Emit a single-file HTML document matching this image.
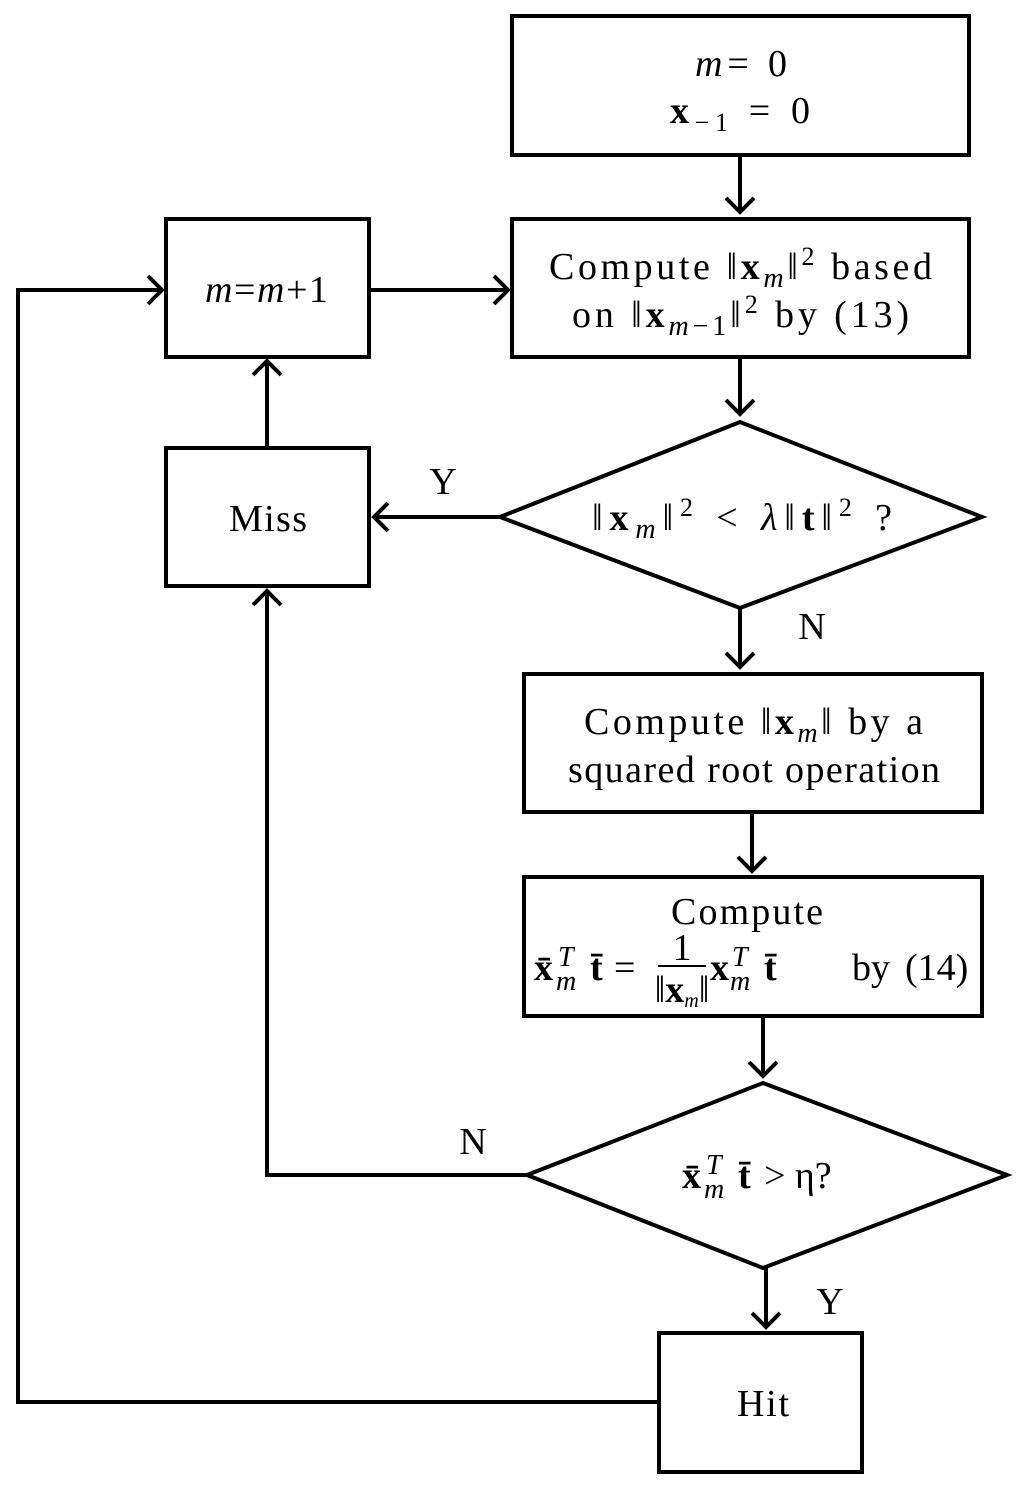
<!DOCTYPE html>
<html><head><meta charset="utf-8"><style>
html,body{margin:0;padding:0;background:#fff;}
svg{display:block;}
text{font-family:"Liberation Serif",serif;font-size:38px;fill:#000;}
.b{font-weight:bold;}
.i{font-style:italic;}
.s{font-size:28px;font-style:italic;}
</style></head><body>
<svg width="1024" height="1488" viewBox="0 0 1024 1488" xmlns="http://www.w3.org/2000/svg">
<g fill="none" stroke="#000" stroke-width="4">
<rect x="512" y="16" width="457" height="139"/>
<rect x="512" y="219" width="457" height="138"/>
<rect x="166" y="219" width="203" height="138"/>
<rect x="166" y="448" width="203" height="138"/>
<rect x="524" y="674" width="458" height="138"/>
<rect x="524" y="877" width="458" height="139"/>
<rect x="659" y="1333" width="203" height="139"/>
<polygon points="500,517 740,422 982,517 740,608"/>
<polygon points="527,1175 763,1083 1007,1175 763,1268"/>
<line x1="740" y1="155" x2="740" y2="212"/>
<line x1="369" y1="290" x2="508" y2="290"/>
<polyline points="659,1402 18,1402 18,290 162,290"/>
<line x1="740" y1="357" x2="740" y2="414"/>
<line x1="500" y1="517" x2="374" y2="517"/>
<line x1="267" y1="448" x2="267" y2="361"/>
<line x1="740" y1="608" x2="740" y2="667"/>
<line x1="752" y1="812" x2="752" y2="871"/>
<line x1="763" y1="1016" x2="763" y2="1076"/>
<polyline points="527,1175 267,1175 267,591"/>
<line x1="766" y1="1268" x2="766" y2="1327"/>
<polyline points="726,198 740,212 754,198"/>
<polyline points="494,276 508,290 494,304"/>
<polyline points="148,276 162,290 148,304"/>
<polyline points="726,400 740,414 754,400"/>
<polyline points="388,503 374,517 388,531"/>
<polyline points="253,375 267,361 281,375"/>
<polyline points="726,653 740,667 754,653"/>
<polyline points="738,857 752,871 766,857"/>
<polyline points="749,1062 763,1076 777,1062"/>
<polyline points="253,605 267,591 281,605"/>
<polyline points="752,1313 766,1327 780,1313"/>
</g>
<text x="695" y="76" textLength="92" lengthAdjust="spacing"><tspan class="i">m</tspan>= 0</text>
<text x="670" y="123" textLength="140" lengthAdjust="spacing"><tspan class="b">x</tspan><tspan font-size="26" dy="8">−1</tspan><tspan dy="-8"> = 0</tspan></text>
<text x="549" y="279" textLength="383" lengthAdjust="spacing">Compute ‖<tspan class="b">x</tspan><tspan class="i" font-size="28" dy="8">m</tspan><tspan dy="-8">‖</tspan><tspan font-size="26" dy="-14">2</tspan><tspan dy="14"> based</tspan></text>
<text x="572" y="327" textLength="337" lengthAdjust="spacing">on ‖<tspan class="b">x</tspan><tspan font-size="28" dy="8"><tspan class="i">m</tspan>−1</tspan><tspan dy="-8">‖</tspan><tspan font-size="26" dy="-14">2</tspan><tspan dy="14"> by (13)</tspan></text>
<text x="205" y="302" textLength="123" lengthAdjust="spacing"><tspan class="i">m</tspan>=<tspan class="i">m</tspan>+1</text>
<text x="229" y="531" textLength="78" lengthAdjust="spacing">Miss</text>
<text x="592" y="530" textLength="300" lengthAdjust="spacing">‖<tspan class="b">x</tspan><tspan class="i" font-size="28" dy="8">m</tspan><tspan dy="-8">‖</tspan><tspan font-size="26" dy="-14">2</tspan><tspan dy="14"> &lt; </tspan><tspan class="i">λ</tspan>‖<tspan class="b">t</tspan>‖<tspan font-size="26" dy="-14">2</tspan><tspan dy="14"> ?</tspan></text>
<text x="443" y="494" text-anchor="middle">Y</text>
<text x="812" y="639" text-anchor="middle">N</text>
<text x="584" y="734" textLength="339" lengthAdjust="spacing">Compute ‖<tspan class="b">x</tspan><tspan class="i" font-size="28" dy="8">m</tspan><tspan dy="-8">‖ by a</tspan></text>
<text x="568" y="782" textLength="372" lengthAdjust="spacing">squared root operation</text>
<text x="671" y="924" textLength="152" lengthAdjust="spacing">Compute</text>
<!-- formula line -->
<text x="534" y="980" class="b">x̄</text>
<text x="558" y="966" class="s">T</text>
<text x="556" y="990" class="s">m</text>
<text x="590" y="980" class="b">t̄</text>
<text x="614" y="980">=</text>
<text x="682" y="960" text-anchor="middle" font-size="28">1</text>
<line x1="658" y1="966" x2="706" y2="966" stroke="#000" stroke-width="2"/>
<text x="682" y="1002" text-anchor="middle" font-size="24">‖<tspan class="b">x</tspan><tspan class="i" font-size="20" dy="5">m</tspan><tspan dy="-5">‖</tspan></text>
<text x="710" y="980" class="b">x</text>
<text x="732" y="966" class="s">T</text>
<text x="730" y="990" class="s">m</text>
<text x="764" y="980" class="b">t̄</text>
<text x="852" y="980">by</text>
<text x="905" y="980">(14)</text>
<!-- diamond2 -->
<text x="682" y="1188" class="b">x̄</text>
<text x="706" y="1174" class="s">T</text>
<text x="704" y="1198" class="s">m</text>
<text x="738" y="1188" class="b">t̄</text>
<text x="764" y="1188">&gt; η?</text>
<text x="473" y="1154" text-anchor="middle">N</text>
<text x="830" y="1314" text-anchor="middle">Y</text>
<text x="737" y="1416" textLength="52" lengthAdjust="spacing">Hit</text>
</svg>
</body></html>
